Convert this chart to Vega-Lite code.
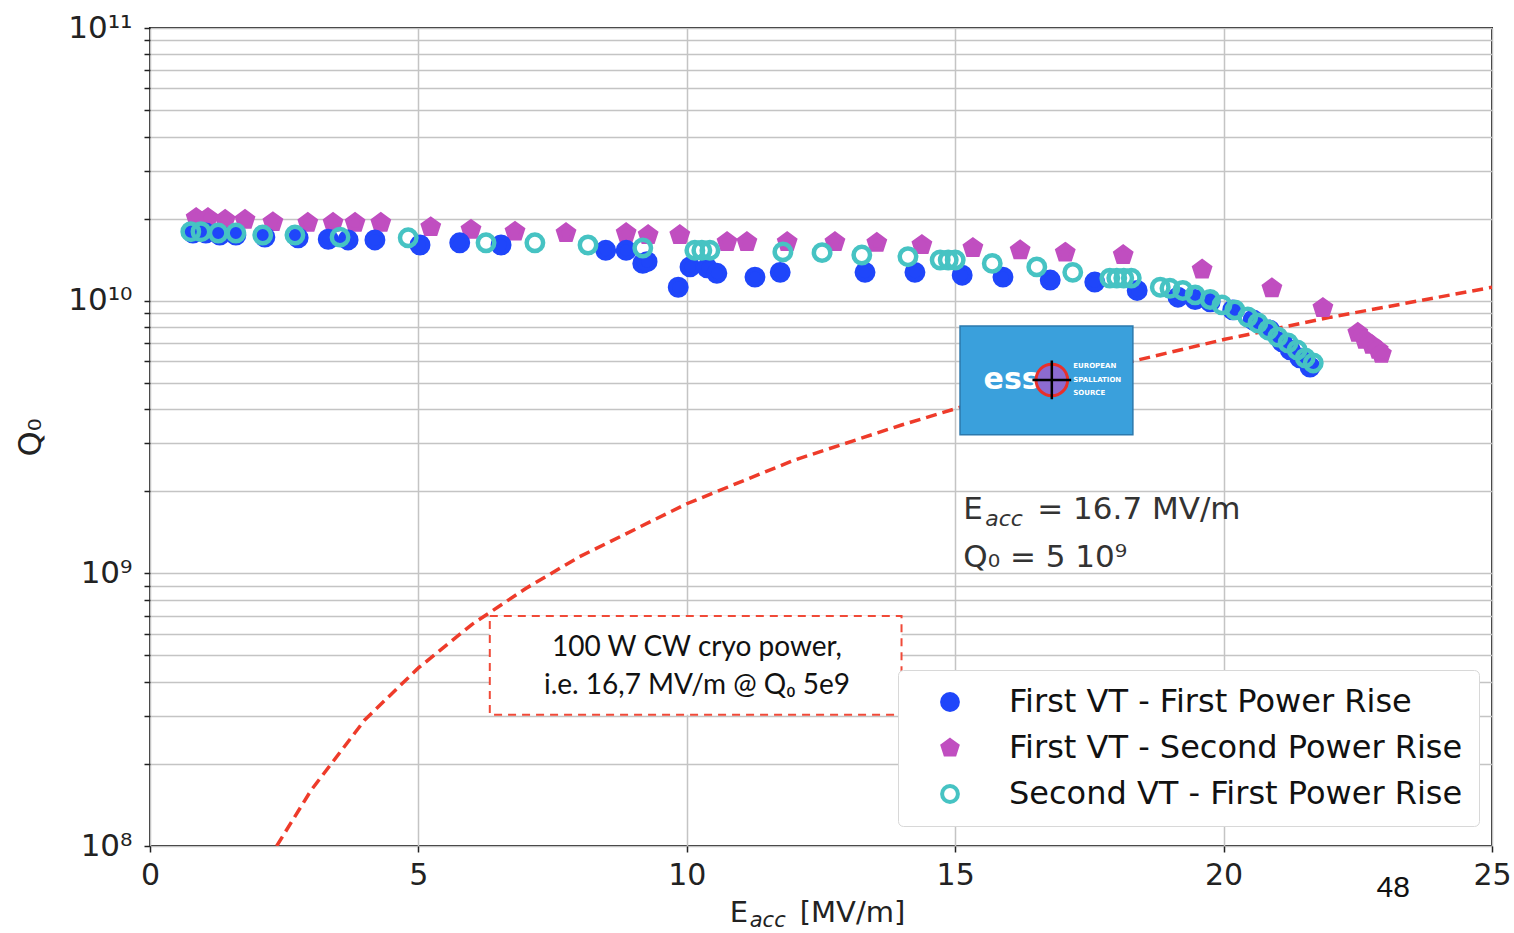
{
  "$schema": "https://vega.github.io/schema/vega-lite/v6.json",
  "width": 1342,
  "height": 818,
  "autosize": "none",
  "padding": {"left": 150, "top": 28, "right": 22, "bottom": 87},
  "background": "white",
  "config": {
    "view": {"stroke": "#222", "strokeWidth": 2},
    "axis": {
      "labelFont": "DejaVu Sans",
      "titleFont": "DejaVu Sans",
      "labelColor": "#222",
      "tickColor": "#222",
      "gridColor": "#c4c4c4",
      "gridWidth": 1.5,
      "domain": false,
      "labelFontSize": 30,
      "tickSize": 6,
      "tickWidth": 1.5
    }
  },
  "datasets": {
    "curve": [
      {"Eacc": 2.36, "Q0": 1.0e8},
      {"Eacc": 3, "Q0": 1.6e8},
      {"Eacc": 4, "Q0": 2.9e8},
      {"Eacc": 5, "Q0": 4.5e8},
      {"Eacc": 6, "Q0": 6.5e8},
      {"Eacc": 7, "Q0": 8.8e8},
      {"Eacc": 8, "Q0": 1.15e9},
      {"Eacc": 10, "Q0": 1.8e9},
      {"Eacc": 12, "Q0": 2.6e9},
      {"Eacc": 14, "Q0": 3.5e9},
      {"Eacc": 16, "Q0": 4.6e9},
      {"Eacc": 18, "Q0": 5.8e9},
      {"Eacc": 20, "Q0": 7.2e9},
      {"Eacc": 22, "Q0": 8.7e9},
      {"Eacc": 25, "Q0": 1.12e10}
    ],
    "points": [
      {"series": "First VT - Second Power Rise", "Eacc": 0.86, "Q0": 2.01e10},
      {"series": "First VT - Second Power Rise", "Eacc": 1.08, "Q0": 2.01e10},
      {"series": "First VT - Second Power Rise", "Eacc": 1.40, "Q0": 1.98e10},
      {"series": "First VT - Second Power Rise", "Eacc": 1.77, "Q0": 1.98e10},
      {"series": "First VT - Second Power Rise", "Eacc": 2.29, "Q0": 1.94e10},
      {"series": "First VT - Second Power Rise", "Eacc": 2.94, "Q0": 1.93e10},
      {"series": "First VT - Second Power Rise", "Eacc": 3.41, "Q0": 1.93e10},
      {"series": "First VT - Second Power Rise", "Eacc": 3.82, "Q0": 1.93e10},
      {"series": "First VT - Second Power Rise", "Eacc": 4.30, "Q0": 1.93e10},
      {"series": "First VT - Second Power Rise", "Eacc": 5.23, "Q0": 1.86e10},
      {"series": "First VT - Second Power Rise", "Eacc": 5.98, "Q0": 1.82e10},
      {"series": "First VT - Second Power Rise", "Eacc": 6.80, "Q0": 1.79e10},
      {"series": "First VT - Second Power Rise", "Eacc": 7.75, "Q0": 1.77e10},
      {"series": "First VT - Second Power Rise", "Eacc": 8.87, "Q0": 1.77e10},
      {"series": "First VT - Second Power Rise", "Eacc": 9.28, "Q0": 1.74e10},
      {"series": "First VT - Second Power Rise", "Eacc": 9.87, "Q0": 1.74e10},
      {"series": "First VT - Second Power Rise", "Eacc": 10.75, "Q0": 1.64e10},
      {"series": "First VT - Second Power Rise", "Eacc": 11.12, "Q0": 1.64e10},
      {"series": "First VT - Second Power Rise", "Eacc": 11.87, "Q0": 1.64e10},
      {"series": "First VT - Second Power Rise", "Eacc": 12.76, "Q0": 1.64e10},
      {"series": "First VT - Second Power Rise", "Eacc": 13.54, "Q0": 1.63e10},
      {"series": "First VT - Second Power Rise", "Eacc": 14.38, "Q0": 1.60e10},
      {"series": "First VT - Second Power Rise", "Eacc": 15.33, "Q0": 1.56e10},
      {"series": "First VT - Second Power Rise", "Eacc": 16.21, "Q0": 1.53e10},
      {"series": "First VT - Second Power Rise", "Eacc": 17.05, "Q0": 1.50e10},
      {"series": "First VT - Second Power Rise", "Eacc": 18.13, "Q0": 1.47e10},
      {"series": "First VT - Second Power Rise", "Eacc": 19.60, "Q0": 1.30e10},
      {"series": "First VT - Second Power Rise", "Eacc": 20.90, "Q0": 1.11e10},
      {"series": "First VT - Second Power Rise", "Eacc": 21.85, "Q0": 9.4e9},
      {"series": "First VT - Second Power Rise", "Eacc": 22.50, "Q0": 7.62e9},
      {"series": "First VT - Second Power Rise", "Eacc": 22.63, "Q0": 7.18e9},
      {"series": "First VT - Second Power Rise", "Eacc": 22.76, "Q0": 6.88e9},
      {"series": "First VT - Second Power Rise", "Eacc": 22.88, "Q0": 6.6e9},
      {"series": "First VT - Second Power Rise", "Eacc": 22.94, "Q0": 6.38e9},
      {"series": "First VT - First Power Rise", "Eacc": 0.80, "Q0": 1.77e10},
      {"series": "First VT - First Power Rise", "Eacc": 1.04, "Q0": 1.77e10},
      {"series": "First VT - First Power Rise", "Eacc": 1.30, "Q0": 1.74e10},
      {"series": "First VT - First Power Rise", "Eacc": 1.60, "Q0": 1.74e10},
      {"series": "First VT - First Power Rise", "Eacc": 2.14, "Q0": 1.71e10},
      {"series": "First VT - First Power Rise", "Eacc": 2.76, "Q0": 1.70e10},
      {"series": "First VT - First Power Rise", "Eacc": 3.32, "Q0": 1.68e10},
      {"series": "First VT - First Power Rise", "Eacc": 3.69, "Q0": 1.67e10},
      {"series": "First VT - First Power Rise", "Eacc": 4.19, "Q0": 1.67e10},
      {"series": "First VT - First Power Rise", "Eacc": 5.03, "Q0": 1.60e10},
      {"series": "First VT - First Power Rise", "Eacc": 5.77, "Q0": 1.63e10},
      {"series": "First VT - First Power Rise", "Eacc": 6.54, "Q0": 1.60e10},
      {"series": "First VT - First Power Rise", "Eacc": 8.49, "Q0": 1.53e10},
      {"series": "First VT - First Power Rise", "Eacc": 8.87, "Q0": 1.53e10},
      {"series": "First VT - First Power Rise", "Eacc": 9.18, "Q0": 1.37e10},
      {"series": "First VT - First Power Rise", "Eacc": 9.26, "Q0": 1.39e10},
      {"series": "First VT - First Power Rise", "Eacc": 9.84, "Q0": 1.12e10},
      {"series": "First VT - First Power Rise", "Eacc": 10.06, "Q0": 1.33e10},
      {"series": "First VT - First Power Rise", "Eacc": 10.38, "Q0": 1.32e10},
      {"series": "First VT - First Power Rise", "Eacc": 10.56, "Q0": 1.26e10},
      {"series": "First VT - First Power Rise", "Eacc": 11.27, "Q0": 1.22e10},
      {"series": "First VT - First Power Rise", "Eacc": 11.74, "Q0": 1.27e10},
      {"series": "First VT - First Power Rise", "Eacc": 13.32, "Q0": 1.27e10},
      {"series": "First VT - First Power Rise", "Eacc": 14.25, "Q0": 1.27e10},
      {"series": "First VT - First Power Rise", "Eacc": 15.13, "Q0": 1.24e10},
      {"series": "First VT - First Power Rise", "Eacc": 15.89, "Q0": 1.22e10},
      {"series": "First VT - First Power Rise", "Eacc": 16.77, "Q0": 1.19e10},
      {"series": "First VT - First Power Rise", "Eacc": 17.60, "Q0": 1.17e10},
      {"series": "First VT - First Power Rise", "Eacc": 18.39, "Q0": 1.09e10},
      {"series": "First VT - First Power Rise", "Eacc": 19.15, "Q0": 1.03e10},
      {"series": "First VT - First Power Rise", "Eacc": 19.47, "Q0": 1.01e10},
      {"series": "First VT - First Power Rise", "Eacc": 19.75, "Q0": 9.9e9},
      {"series": "First VT - First Power Rise", "Eacc": 20.17, "Q0": 9.25e9},
      {"series": "First VT - First Power Rise", "Eacc": 20.55, "Q0": 8.5e9},
      {"series": "First VT - First Power Rise", "Eacc": 20.86, "Q0": 7.8e9},
      {"series": "First VT - First Power Rise", "Eacc": 21.09, "Q0": 7.06e9},
      {"series": "First VT - First Power Rise", "Eacc": 21.24, "Q0": 6.6e9},
      {"series": "First VT - First Power Rise", "Eacc": 21.42, "Q0": 6.17e9},
      {"series": "First VT - First Power Rise", "Eacc": 21.61, "Q0": 5.71e9},
      {"series": "Second VT - First Power Rise", "Eacc": 0.76, "Q0": 1.79e10},
      {"series": "Second VT - First Power Rise", "Eacc": 0.95, "Q0": 1.79e10},
      {"series": "Second VT - First Power Rise", "Eacc": 1.27, "Q0": 1.77e10},
      {"series": "Second VT - First Power Rise", "Eacc": 1.60, "Q0": 1.77e10},
      {"series": "Second VT - First Power Rise", "Eacc": 2.10, "Q0": 1.74e10},
      {"series": "Second VT - First Power Rise", "Eacc": 2.70, "Q0": 1.74e10},
      {"series": "Second VT - First Power Rise", "Eacc": 3.54, "Q0": 1.71e10},
      {"series": "Second VT - First Power Rise", "Eacc": 4.81, "Q0": 1.70e10},
      {"series": "Second VT - First Power Rise", "Eacc": 6.26, "Q0": 1.63e10},
      {"series": "Second VT - First Power Rise", "Eacc": 7.17, "Q0": 1.63e10},
      {"series": "Second VT - First Power Rise", "Eacc": 8.16, "Q0": 1.60e10},
      {"series": "Second VT - First Power Rise", "Eacc": 9.18, "Q0": 1.56e10},
      {"series": "Second VT - First Power Rise", "Eacc": 10.15, "Q0": 1.53e10},
      {"series": "Second VT - First Power Rise", "Eacc": 10.28, "Q0": 1.53e10},
      {"series": "Second VT - First Power Rise", "Eacc": 10.43, "Q0": 1.53e10},
      {"series": "Second VT - First Power Rise", "Eacc": 11.79, "Q0": 1.51e10},
      {"series": "Second VT - First Power Rise", "Eacc": 12.52, "Q0": 1.50e10},
      {"series": "Second VT - First Power Rise", "Eacc": 13.26, "Q0": 1.47e10},
      {"series": "Second VT - First Power Rise", "Eacc": 14.12, "Q0": 1.45e10},
      {"series": "Second VT - First Power Rise", "Eacc": 14.72, "Q0": 1.41e10},
      {"series": "Second VT - First Power Rise", "Eacc": 14.87, "Q0": 1.41e10},
      {"series": "Second VT - First Power Rise", "Eacc": 15.00, "Q0": 1.41e10},
      {"series": "Second VT - First Power Rise", "Eacc": 15.69, "Q0": 1.37e10},
      {"series": "Second VT - First Power Rise", "Eacc": 16.52, "Q0": 1.33e10},
      {"series": "Second VT - First Power Rise", "Eacc": 17.19, "Q0": 1.27e10},
      {"series": "Second VT - First Power Rise", "Eacc": 17.88, "Q0": 1.21e10},
      {"series": "Second VT - First Power Rise", "Eacc": 18.01, "Q0": 1.21e10},
      {"series": "Second VT - First Power Rise", "Eacc": 18.14, "Q0": 1.21e10},
      {"series": "Second VT - First Power Rise", "Eacc": 18.28, "Q0": 1.21e10},
      {"series": "Second VT - First Power Rise", "Eacc": 18.82, "Q0": 1.12e10},
      {"series": "Second VT - First Power Rise", "Eacc": 19.00, "Q0": 1.11e10},
      {"series": "Second VT - First Power Rise", "Eacc": 19.24, "Q0": 1.09e10},
      {"series": "Second VT - First Power Rise", "Eacc": 19.47, "Q0": 1.05e10},
      {"series": "Second VT - First Power Rise", "Eacc": 19.75, "Q0": 1.01e10},
      {"series": "Second VT - First Power Rise", "Eacc": 19.97, "Q0": 9.65e9},
      {"series": "Second VT - First Power Rise", "Eacc": 20.21, "Q0": 9.25e9},
      {"series": "Second VT - First Power Rise", "Eacc": 20.45, "Q0": 8.71e9},
      {"series": "Second VT - First Power Rise", "Eacc": 20.64, "Q0": 8.28e9},
      {"series": "Second VT - First Power Rise", "Eacc": 20.83, "Q0": 7.81e9},
      {"series": "Second VT - First Power Rise", "Eacc": 21.01, "Q0": 7.36e9},
      {"series": "Second VT - First Power Rise", "Eacc": 21.20, "Q0": 7.0e9},
      {"series": "Second VT - First Power Rise", "Eacc": 21.37, "Q0": 6.6e9},
      {"series": "Second VT - First Power Rise", "Eacc": 21.52, "Q0": 6.17e9},
      {"series": "Second VT - First Power Rise", "Eacc": 21.67, "Q0": 5.91e9}
    ]
  },
  "layer": [
    {
      "data": {"values": [{}]},
      "mark": {"type": "rect", "fill": "white", "stroke": "#f04a38", "strokeWidth": 2, "strokeDash": [8, 6]},
      "encoding": {
        "x": {"datum": 6.33, "type": "quantitative", "scale": {"domain": [0, 25], "nice": false, "zero": false},
          "axis": {"values": [0, 5, 10, 15, 20, 25], "title": null, "grid": true, "labelFlush": false, "labelPadding": 8, "format": "d"}},
        "x2": {"datum": 14.0},
        "y": {"datum": 6.98e8, "type": "quantitative", "scale": {"type": "log", "domain": [1e8, 1e11], "nice": false},
          "axis": {
            "values": [100000000, 200000000, 300000000, 400000000, 500000000, 600000000, 700000000, 800000000, 900000000,
                       1000000000, 2000000000, 3000000000, 4000000000, 5000000000, 6000000000, 7000000000, 8000000000, 9000000000,
                       10000000000, 20000000000, 30000000000, 40000000000, 50000000000, 60000000000, 70000000000, 80000000000, 90000000000, 100000000000],
            "labelExpr": "datum.value == 100000000 ? '10⁸' : datum.value == 1000000000 ? '10⁹' : datum.value == 10000000000 ? '10¹⁰' : datum.value == 100000000000 ? '10¹¹' : ''",
            "labelOverlap": false,
            "labelPadding": 12,
            "labelFontSize": 31,
            "grid": true,
            "title": "Q₀",
            "titleFontSize": 32,
            "titleFontWeight": "normal",
            "titleColor": "#222",
            "titleX": -120,
            "titleY": 409,
            "titleAlign": "center",
            "titleBaseline": "middle",
            "titleAngle": -90
          }},
        "y2": {"datum": 3.03e8}
      }
    },
    {
      "data": {"name": "curve"},
      "mark": {"type": "line", "color": "#ee3b2a", "strokeWidth": 3.5, "strokeDash": [11, 6], "clip": true},
      "encoding": {
        "x": {"field": "Eacc", "type": "quantitative"},
        "y": {"field": "Q0", "type": "quantitative"}
      }
    },
    {
      "data": {"values": [{}]},
      "mark": {"type": "rect", "fill": "#3aa0dc", "stroke": "#2b79ad", "strokeWidth": 1.5},
      "encoding": {
        "x": {"datum": 15.09, "type": "quantitative"},
        "x2": {"datum": 18.31},
        "y": {"datum": 8.07e9, "type": "quantitative"},
        "y2": {"datum": 3.22e9}
      }
    },
    {
      "data": {"values": [{}]},
      "mark": {"type": "text", "text": "ess", "color": "white", "font": "DejaVu Sans", "fontSize": 30, "fontWeight": "bold", "align": "center", "baseline": "middle"},
      "encoding": {
        "x": {"datum": 16.05, "type": "quantitative"},
        "y": {"datum": 5.12e9, "type": "quantitative"}
      }
    },
    {
      "data": {"values": [{}]},
      "mark": {"type": "point", "shape": "circle", "size": 1000, "fill": "#8c6bd0", "stroke": "#e8302a", "strokeWidth": 3, "opacity": 1},
      "encoding": {
        "x": {"datum": 16.8, "type": "quantitative"},
        "y": {"datum": 5.12e9, "type": "quantitative"}
      }
    },
    {
      "data": {"values": [{}]},
      "mark": {"type": "point", "shape": "M-1,0L1,0M0,-1L0,1", "size": 1500, "filled": false, "stroke": "black", "strokeWidth": 2.5, "opacity": 1},
      "encoding": {
        "x": {"datum": 16.8, "type": "quantitative"},
        "y": {"datum": 5.12e9, "type": "quantitative"}
      }
    },
    {
      "data": {"values": [{"t": "EUROPEAN", "k": 5.75e9}, {"t": "SPALLATION", "k": 5.12e9}, {"t": "SOURCE", "k": 4.6e9}]},
      "mark": {"type": "text", "color": "white", "font": "DejaVu Sans", "fontSize": 7, "fontWeight": "bold", "align": "left", "baseline": "middle"},
      "encoding": {
        "x": {"datum": 17.2, "type": "quantitative"},
        "y": {"field": "k", "type": "quantitative"},
        "text": {"field": "t"}
      }
    },
    {
      "data": {"name": "points"},
      "mark": {"type": "point", "size": 270, "strokeWidth": 4.5, "opacity": 1},
      "encoding": {
        "x": {"field": "Eacc", "type": "quantitative"},
        "y": {"field": "Q0", "type": "quantitative"},
        "fill": {"field": "series", "type": "nominal",
          "scale": {"domain": ["First VT - First Power Rise", "First VT - Second Power Rise", "Second VT - First Power Rise"],
                    "range": ["#1f46fa", "#c04ec0", "transparent"]},
          "legend": {
            "title": null, "orient": "none", "legendX": 748, "legendY": 642,
            "fillColor": "white", "strokeColor": "#d8d8d8", "cornerRadius": 5, "padding": 16,
            "labelFont": "DejaVu Sans", "labelFontSize": 32, "labelColor": "#111", "labelLimit": 0,
            "symbolSize": 250, "symbolStrokeWidth": 4, "rowPadding": 14, "labelOffset": 43, "symbolOffset": 20
          }},
        "stroke": {"field": "series", "type": "nominal",
          "scale": {"domain": ["First VT - First Power Rise", "First VT - Second Power Rise", "Second VT - First Power Rise"],
                    "range": ["#1f46fa", "#c04ec0", "#46c3c3"]}},
        "shape": {"field": "series", "type": "nominal",
          "scale": {"domain": ["First VT - First Power Rise", "First VT - Second Power Rise", "Second VT - First Power Rise"],
                    "range": ["circle", "M0,-1L0.951,-0.309L0.588,0.809L-0.588,0.809L-0.951,-0.309Z", "circle"]}}
      }
    },
    {
      "data": {"values": [{}]},
      "mark": {"type": "text", "text": "E", "color": "#333", "font": "DejaVu Sans", "fontSize": 31, "align": "left", "baseline": "middle"},
      "encoding": {"x": {"datum": 15.15, "type": "quantitative"}, "y": {"datum": 1.71e9, "type": "quantitative"}}
    },
    {
      "data": {"values": [{}]},
      "mark": {"type": "text", "text": "acc", "color": "#333", "font": "DejaVu Sans", "fontSize": 22, "fontStyle": "italic", "align": "left", "baseline": "middle", "dx": 22, "dy": 9},
      "encoding": {"x": {"datum": 15.15, "type": "quantitative"}, "y": {"datum": 1.71e9, "type": "quantitative"}}
    },
    {
      "data": {"values": [{}]},
      "mark": {"type": "text", "text": "= 16.7 MV/m", "color": "#333", "font": "DejaVu Sans", "fontSize": 31, "align": "left", "baseline": "middle", "dx": 74},
      "encoding": {"x": {"datum": 15.15, "type": "quantitative"}, "y": {"datum": 1.71e9, "type": "quantitative"}}
    },
    {
      "data": {"values": [{}]},
      "mark": {"type": "text", "text": "Q₀ = 5 10⁹", "color": "#333", "font": "DejaVu Sans", "fontSize": 31, "align": "left", "baseline": "middle"},
      "encoding": {"x": {"datum": 15.15, "type": "quantitative"}, "y": {"datum": 1.14e9, "type": "quantitative"}}
    },
    {
      "data": {"values": [{"t": "100 W CW cryo power,", "k": 5.32e8}, {"t": "i.e. 16,7 MV/m @ Q₀ 5e9", "k": 3.86e8}]},
      "mark": {"type": "text", "color": "#111", "font": "Lato, DejaVu Sans", "fontSize": 28, "align": "center", "baseline": "middle"},
      "encoding": {
        "x": {"datum": 10.19, "type": "quantitative"},
        "y": {"field": "k", "type": "quantitative"},
        "text": {"field": "t"}
      }
    },
    {
      "data": {"values": [{}]},
      "mark": {"type": "text", "text": "E", "color": "#222", "font": "DejaVu Sans", "fontSize": 29, "align": "left", "baseline": "middle"},
      "encoding": {"x": {"datum": 10.8, "type": "quantitative"}, "y": {"datum": 5.69e7, "type": "quantitative"}}
    },
    {
      "data": {"values": [{}]},
      "mark": {"type": "text", "text": "acc", "color": "#222", "font": "DejaVu Sans", "fontSize": 21, "fontStyle": "italic", "align": "left", "baseline": "middle", "dx": 20, "dy": 8},
      "encoding": {"x": {"datum": 10.8, "type": "quantitative"}, "y": {"datum": 5.69e7, "type": "quantitative"}}
    },
    {
      "data": {"values": [{}]},
      "mark": {"type": "text", "text": "[MV/m]", "color": "#222", "font": "DejaVu Sans", "fontSize": 29, "align": "left", "baseline": "middle", "dx": 70},
      "encoding": {"x": {"datum": 10.8, "type": "quantitative"}, "y": {"datum": 5.69e7, "type": "quantitative"}}
    },
    {
      "data": {"values": [{}]},
      "mark": {"type": "text", "text": "48", "color": "#111", "font": "Liberation Sans Narrow, Liberation Sans", "fontSize": 30, "align": "center", "baseline": "middle"},
      "encoding": {"x": {"datum": 23.16, "type": "quantitative"}, "y": {"datum": 7.0e7, "type": "quantitative"}}
    }
  ]
}
